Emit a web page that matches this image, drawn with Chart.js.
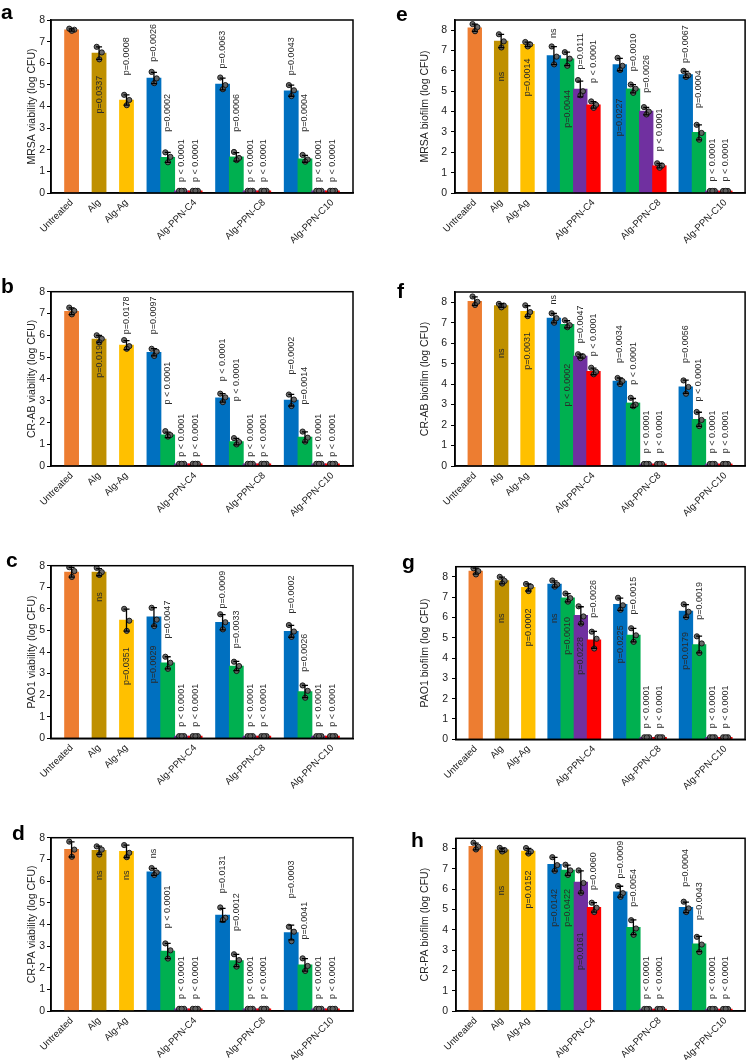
<!DOCTYPE html>
<html><head><meta charset="utf-8">
<script src="https://cdn.jsdelivr.net/npm/chart.js@4.4.1/dist/chart.umd.min.js"></script>
<style>
body{margin:0;background:#fff;width:750px;height:1060px;position:relative;overflow:hidden;font-family:'Liberation Sans',Arial,sans-serif}
canvas{position:absolute}
.lt{position:absolute;font:bold 21px 'Liberation Sans',Arial,sans-serif;color:#000;line-height:21px}
</style></head><body>
<script>
// ---------- categories / ticks ----------
const CATEGORIES = ['Untreated','Alg','Alg-Ag','Alg-PPN-C4','Alg-PPN-C8','Alg-PPN-C10'];
// bar order: Untreated, Alg, Alg-Ag, C4(x4), C8(x4), C10(x4)
const Y_TITLES = {
  a:'MRSA viability (log CFU)', b:'CR-AB viability (log CFU)', c:'PAO1 viability (log CFU)', d:'CR-PA viability (log CFU)',
  e:'MRSA biofilm (log CFU)', f:'CR-AB biofilm (log CFU)', g:'PAO1 biofilm (log CFU)', h:'CR-PA biofilm (log CFU)'
};
const Y_TICKS = [0,1,2,3,4,5,6,7,8];

// ---------- series values (bar means) ----------
const aMeans = [7.54, 6.47, 4.30, 5.32, 1.65, 0.1, 0.1, 5.04, 1.67, 0.1, 0.1, 4.73, 1.58, 0.1, 0.1];
const bMeans = [7.10, 5.83, 5.55, 5.22, 1.43, 0.1, 0.1, 3.13, 1.12, 0.1, 0.1, 3.02, 1.33, 0.1, 0.1];
const cMeans = [7.70, 7.70, 5.48, 5.63, 3.50, 0.1, 0.1, 5.38, 3.35, 0.1, 0.1, 4.96, 2.17, 0.1, 0.1];
const dMeans = [7.46, 7.42, 7.37, 6.42, 2.77, 0.1, 0.1, 4.43, 2.33, 0.1, 0.1, 3.62, 2.13, 0.1, 0.1];
const eMeans = [8.12, 7.47, 7.30, 6.75, 6.59, 5.11, 4.33, 6.31, 5.12, 4.02, 1.34, 5.82, 2.98, 0.1, 0.1];
const fMeans = [8.05, 7.84, 7.56, 7.22, 6.92, 5.37, 4.62, 4.15, 3.08, 0.1, 0.1, 3.87, 2.28, 0.1, 0.1];
const gMeans = [8.28, 7.82, 7.48, 7.65, 6.97, 6.10, 4.90, 6.65, 5.13, 0.1, 0.1, 6.32, 4.67, 0.1, 0.1];
const hMeans = [8.10, 7.93, 7.87, 7.22, 6.93, 6.35, 5.10, 5.87, 4.12, 0.1, 0.1, 5.10, 3.30, 0.1, 0.1];

// ---------- replicate points ----------
const Z = [0.1, 0.1, 0.1];
const aPoints = [[7.60,7.55,7.50],[6.76,6.50,6.18],[4.54,4.30,4.06],[5.60,5.30,5.08],[1.88,1.67,1.42],Z,Z,
  [5.34,4.99,4.80],[1.90,1.62,1.52],Z,Z,[4.99,4.75,4.48],[1.76,1.55,1.45],Z,Z];
const bPoints = [[7.27,7.12,6.96],[6.00,5.84,5.68],[5.78,5.50,5.38],[5.38,5.25,5.05],[1.60,1.42,1.35],Z,Z,
  [3.32,3.15,2.93],[1.28,1.10,0.99],Z,Z,[3.28,3.05,2.75],[1.58,1.30,1.12],Z,Z];
const cPoints = [[7.93,7.75,7.48],[7.90,7.70,7.57],[6.00,5.45,4.98],[6.05,5.50,5.20],[3.78,3.50,3.22],Z,Z,
  [5.75,5.38,5.05],[3.55,3.35,3.12],Z,Z,[5.25,4.95,4.70],[2.45,2.20,1.88],Z,Z];
const dPoints = [[7.82,7.45,7.12],[7.60,7.45,7.22],[7.66,7.30,7.10],[6.60,6.40,6.28],[3.12,2.80,2.42],Z,Z,
  [4.78,4.30,4.20],[2.62,2.35,2.05],Z,Z,[3.89,3.66,3.22],[2.43,2.08,1.85],Z,Z];
const ePoints = [[8.30,8.15,7.95],[7.80,7.45,7.15],[7.42,7.30,7.20],[7.20,6.70,6.32],[6.92,6.60,6.25],[5.55,5.00,4.80],[4.50,4.33,4.18],
  [6.64,6.25,6.04],[5.33,5.12,4.92],[4.22,4.00,3.86],[1.46,1.35,1.24],[6.00,5.78,5.70],[3.35,2.95,2.62],Z,Z];
const fPoints = [[8.28,8.02,7.87],[7.92,7.84,7.75],[7.85,7.52,7.32],[7.46,7.22,7.00],[7.12,6.88,6.78],[5.46,5.36,5.27],[4.80,4.60,4.48],
  [4.30,4.15,4.00],[3.33,3.00,2.92],Z,Z,[4.18,3.86,3.53],[2.64,2.25,1.95],Z,Z];
const gPoints = [[8.42,8.28,8.12],[8.00,7.80,7.67],[7.65,7.52,7.30],[7.82,7.62,7.52],[7.18,6.95,6.78],[6.55,6.05,5.70],[5.30,4.95,4.47],
  [6.97,6.60,6.38],[5.47,5.12,4.80],Z,Z,[6.65,6.28,6.02],[5.07,4.72,4.25],Z,Z];
const hPoints = [[8.28,8.08,7.95],[8.03,7.92,7.85],[8.02,7.85,7.75],[7.57,7.18,6.90],[7.20,6.92,6.70],[6.92,6.30,5.82],[5.33,5.08,4.87],
  [6.15,5.80,5.62],[4.47,4.06,3.75],Z,Z,[5.38,5.05,4.87],[3.65,3.27,2.90],Z,Z];

// ---------- significance labels: [bar index, text, y value of text start] ----------
const P4 = 'p < 0.0001';
const aNotes = [[1,'p=0.0337',3.68],[2,'p=0.0008',5.45],[3,'p=0.0026',6.07],[4,'p=0.0002',2.83],[5,P4,0.51],[6,P4,0.51],
  [7,'p=0.0063',5.76],[8,'p=0.0006',2.83],[9,P4,0.51],[10,P4,0.51],[11,'p=0.0043',5.45],[12,'p=0.0004',2.83],[13,P4,0.51],[14,P4,0.51]];
const bNotes = [[1,'p=0.0192',4.05],[2,'p=0.0178',6.05],[3,'p=0.0097',6.05],[4,P4,2.82],[5,P4,0.43],[6,P4,0.43],
  [7,P4,3.89],[8,P4,2.97],[9,P4,0.43],[10,P4,0.43],[11,'p=0.0002',4.2],[12,'p=0.0014',2.82],[13,P4,0.43],[14,P4,0.43]];
const cNotes = [[1,'ns',6.33],[2,'p=0.0351',2.47],[3,'p=0.0029',2.55],[4,'p=0.0047',4.63],[5,P4,0.54],[6,P4,0.54],
  [7,'p=0.0009',6.02],[8,'p=0.0033',4.17],[9,P4,0.54],[10,P4,0.54],[11,'p=0.0002',5.79],[12,'p=0.0026',3.09],[13,P4,0.54],[14,P4,0.54]];
const dNotes = [[1,'ns',6.05],[2,'ns',6.05],[3,'ns',7.05],[4,P4,3.82],[5,P4,0.55],[6,P4,0.55],
  [7,'p=0.0131',5.43],[8,'p=0.0012',3.69],[9,P4,0.55],[10,P4,0.55],[11,'p=0.0003',5.2],[12,'p=0.0041',3.3],[13,P4,0.55],[14,P4,0.55]];
const eNotes = [[1,'ns',5.49],[2,'p=0.0014',4.75],[3,'ns',7.62],[4,'p=0.0044',3.2],[5,'p=0.0111',6.07],[6,P4,5.41],
  [7,'p=0.0227',2.79],[8,'p=0.0010',5.98],[9,'p=0.0026',4.92],[10,P4,2.05],[11,'p=0.0067',6.39],[12,'p=0.0004',4.18],[13,P4,0.57],[14,P4,0.57]];
const fNotes = [[1,'ns',5.27],[2,'p=0.0031',4.7],[3,'ns',7.89],[4,'p < 0.0002',2.91],[5,'p=0.0047',6.0],[6,P4,5.36],
  [7,'p=0.0034',5.03],[8,P4,3.97],[9,P4,0.62],[10,P4,0.62],[11,'p=0.0056',5.03],[12,P4,3.15],[13,P4,0.62],[14,P4,0.62]];
const gNotes = [[1,'ns',5.73],[2,'p=0.0002',4.58],[3,'ns',5.73],[4,'p=0.0010',4.16],[5,'p=0.0228',3.18],[6,'p=0.0026',5.98],
  [7,'p=0.0225',3.75],[8,'p=0.0015',6.14],[9,P4,0.54],[10,P4,0.54],[11,'p=0.0179',3.42],[12,'p=0.0019',5.89],[13,P4,0.54],[14,P4,0.54]];
const hNotes = [[1,'ns',5.7],[2,'p=0.0152',5.05],[3,'p=0.0142',4.15],[4,'p=0.0422',4.15],[5,'p=0.0161',2.02],[6,'p=0.0060',5.95],
  [7,'p=0.0009',6.52],[8,'p=0.0054',5.13],[9,P4,0.59],[10,P4,0.59],[11,'p=0.0004',6.11],[12,'p=0.0043',4.48],[13,P4,0.59],[14,P4,0.59]];

// ---------- layout / style (not data) ----------
const NSLOT = 22;
const SLOTS = [1,3,5,7,8,9,10,12,13,14,15,17,18,19,20];
const CATEGORY_SLOTS = [1,3,5,10,15,20];
const BAR_COLORS = ['#ED7D31','#BF9000','#FFC000',
  '#0070C0','#00B050','#7030A0','#FF0000','#0070C0','#00B050','#7030A0','#FF0000','#0070C0','#00B050','#7030A0','#FF0000'];
const JITTER = [-0.17, 0.2, 0.02];
const FONT = "'Liberation Sans', Arial, sans-serif";

const PANELS = [
  {id:'a', means:aMeans, pts:aPoints, notes:aNotes, left:0,   top:0,   w:365, pl:51,  pr:353, pt:20,    pb:193,  max:8,   lx:1,   ly:1},
  {id:'b', means:bMeans, pts:bPoints, notes:bNotes, left:0,   top:265, w:365, pl:51,  pr:353, pt:291.7, pb:466,  max:8,   lx:1,   ly:275},
  {id:'c', means:cMeans, pts:cPoints, notes:cNotes, left:0,   top:530, w:365, pl:51,  pr:353, pt:565.7, pb:738.3,max:8,   lx:6,   ly:549},
  {id:'d', means:dMeans, pts:dPoints, notes:dNotes, left:0,   top:795, w:365, pl:51,  pr:353, pt:837.7, pb:1011, max:8,   lx:12,  ly:822},
  {id:'e', means:eMeans, pts:ePoints, notes:eNotes, left:375, top:0,   w:375, pl:455, pr:748, pt:20,    pb:193,  max:8.5, lx:396, ly:3},
  {id:'f', means:fMeans, pts:fPoints, notes:fNotes, left:375, top:265, w:375, pl:455, pr:748, pt:292,   pb:466,  max:8.5, lx:397, ly:280},
  {id:'g', means:gMeans, pts:gPoints, notes:gNotes, left:375, top:530, w:375, pl:456, pr:748, pt:566.7, pb:739.3,max:8.5, lx:402, ly:551},
  {id:'h', means:hMeans, pts:hPoints, notes:hNotes, left:375, top:795, w:375, pl:456, pr:748, pt:838.3, pb:1011, max:8.5, lx:411, ly:829}
];
const H = 265;

function sd(arr){
  const m = arr.reduce((s,v)=>s+v,0)/arr.length;
  return Math.sqrt(arr.reduce((s,v)=>s+(v-m)*(v-m),0)/(arr.length-1));
}

const decorPlugin = {
  id:'decor',
  afterDatasetsDraw(chart){
    const P = chart.options.plugins.decor;
    const xs = chart.scales.x, ys = chart.scales.y, ctx = chart.ctx;
    ctx.save();
    ctx.strokeStyle = '#000'; ctx.lineWidth = 1.3;
    P.means.forEach((m,i)=>{
      const s = sd(P.pts[i]);
      if (s < 0.02) return;
      const x = xs.getPixelForValue(SLOTS[i]);
      const y1 = ys.getPixelForValue(m + s), y0 = ys.getPixelForValue(m - s);
      ctx.beginPath();
      ctx.moveTo(x, y0); ctx.lineTo(x, y1);
      ctx.moveTo(x-3, y1); ctx.lineTo(x+3, y1);
      ctx.moveTo(x-3, y0); ctx.lineTo(x+3, y0);
      ctx.stroke();
    });
    ctx.restore();
  },
  afterDraw(chart){
    const P = chart.options.plugins.decor;
    const xs = chart.scales.x, ys = chart.scales.y, ctx = chart.ctx, ca = chart.chartArea;
    ctx.save();
    ctx.strokeStyle = '#000'; ctx.lineWidth = 1.5;
    ctx.strokeRect(ca.left, ca.top, ca.right-ca.left, ca.bottom-ca.top);
    ctx.font = '9px ' + FONT; ctx.fillStyle = '#2a2a2a';
    ctx.textAlign = 'left'; ctx.textBaseline = 'middle';
    P.notes.forEach(([bi, txt, yv])=>{
      const x = xs.getPixelForValue(SLOTS[bi]);
      const y = ys.getPixelForValue(yv);
      ctx.save(); ctx.translate(x, y); ctx.rotate(-Math.PI/2); ctx.fillText(txt, 0, 0); ctx.restore();
    });
    ctx.restore();
  }
};

PANELS.forEach(P=>{
  const cv = document.createElement('canvas');
  cv.width = P.w; cv.height = H;
  cv.style.left = P.left+'px'; cv.style.top = P.top+'px';
  cv.style.width = P.w+'px'; cv.style.height = H+'px';
  document.body.appendChild(cv);
  const lt = document.createElement('div');
  lt.className = 'lt'; lt.textContent = P.id;
  lt.style.left = P.lx+'px'; lt.style.top = P.ly+'px';
  document.body.appendChild(lt);

  const barData = P.means.map((m,i)=>({x: SLOTS[i], y: m}));
  const ptData = [];
  P.pts.forEach((arr,i)=>arr.forEach((v,k)=>ptData.push({x: SLOTS[i] + JITTER[k], y: v})));

  const yW = P.pl - P.left;
  const xH = (P.top + H) - P.pb;
  const titleCenter = P.left === 0 ? 32 : 50;
  const slotPx = (P.pr - P.pl) / NSLOT;

  new Chart(cv, {
    type: 'bar',
    data: {
      datasets: [
        {type:'bar', data: barData, backgroundColor: BAR_COLORS, borderWidth:0, grouped:false,
         barThickness: slotPx + 0.4, order:2},
        {type:'line', data: ptData, showLine:false, order:1,
         pointRadius:2.6, pointBackgroundColor:'rgba(100,100,100,0.95)', pointBorderColor:'#111', pointBorderWidth:0.9}
      ]
    },
    options: {
      responsive:false, animation:false, devicePixelRatio:1,
      layout:{padding:{left:0, top:P.pt - P.top, right:(P.left + P.w) - P.pr, bottom:0}},
      plugins:{legend:{display:false}, tooltip:{enabled:false}, decor:{means:P.means, pts:P.pts, notes:P.notes}},
      scales:{
        x:{type:'linear', offset:false, min:-0.5, max:NSLOT-0.5,
           afterBuildTicks(s){ s.ticks = CATEGORY_SLOTS.map(v=>({value:v})); },
           grid:{display:false, drawTicks:false}, border:{display:true, color:'#000', width:1.5},
           ticks:{autoSkip:false, minRotation:45, maxRotation:45, padding:4, color:'#222', font:{family:FONT, size:9.6},
                  callback:(v,i)=>CATEGORIES[i]},
           afterFit(s){ s.height = xH; }},
        y:{type:'linear', min:0, max:P.max,
           afterBuildTicks(s){ s.ticks = Y_TICKS.map(v=>({value:v})); },
           grid:{drawOnChartArea:false, drawTicks:true, tickLength:4, color:'#000', lineWidth:1},
           border:{display:true, color:'#000', width:1.5},
           ticks:{padding: P.left === 0 ? 2 : 4, color:'#222', font:{family:FONT, size:10.5}},
           title:{display:true, text:Y_TITLES[P.id], color:'#222', font:{family:FONT, size:10.5},
                  padding:{top:titleCenter - 6.3, bottom:0}},
           afterFit(s){ s.width = yW; }}
      }
    },
    plugins:[decorPlugin]
  });
});
</script>
</body></html>
